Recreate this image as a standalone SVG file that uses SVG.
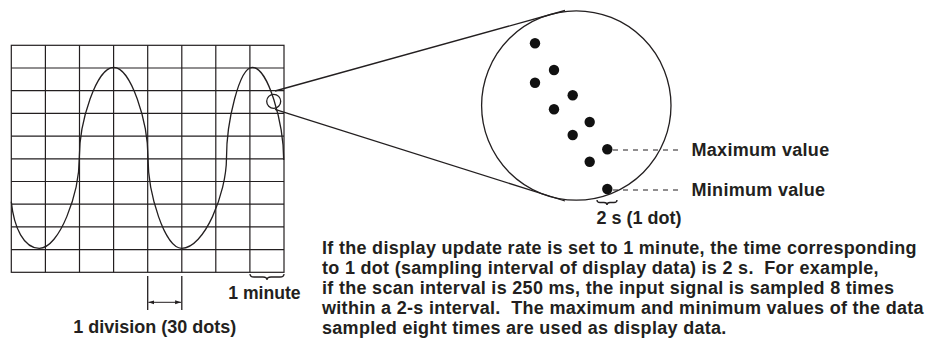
<svg xmlns="http://www.w3.org/2000/svg" width="933" height="347" viewBox="0 0 933 347">
<style>
.t{font-family:"Liberation Sans",Arial,Helvetica,sans-serif;font-weight:bold;font-size:18px;fill:#231f20}
.p{letter-spacing:0.3px}
.ln{fill:none;stroke:#231f20;stroke-width:1.3}
.grid{fill:none;stroke:#231f20;stroke-width:1.2}
.dash{fill:none;stroke:#231f20;stroke-width:1.2;stroke-dasharray:5 5}
.dot{fill:#111}
</style>
<defs>
<marker id="ah" viewBox="0 0 6 6" refX="6" refY="3" markerWidth="6" markerHeight="6" markerUnits="userSpaceOnUse" orient="auto-start-reverse">
<path d="M0,1 L6,3 L0,5 Z" fill="#231f20"/>
</marker>
</defs>

<g id="chart">
<rect class="grid" x="11.3" y="45.3" width="272.7" height="227"/>
<path class="grid" d="M45.4,45.3V272.3M79.5,45.3V272.3M113.6,45.3V272.3M147.7,45.3V272.3M181.8,45.3V272.3M215.8,45.3V272.3M249.9,45.3V272.3M11.3,68H284M11.3,90.7H284M11.3,113.4H284M11.3,136.1H284M11.3,158.8H284M11.3,181.5H284M11.3,204.2H284M11.3,226.9H284M11.3,249.6H284"/>
<path id="waveform" class="ln" d="M11.3,201.7 C14,228 24,248.3 39.3,248.3 C59.3,248.3 79.3,194 79.3,157.8 C79.3,121.6 96.5,67.3 113.7,67.3 C130.85,67.3 148,121.6 148,157.8 C148,194 164.85,248.3 181.7,248.3 C204.1,248.3 226.5,194 226.5,157.8 C226.5,121.6 239.4,67.3 252.3,67.3 C268,67.3 283.7,122.9 283.7,160"/>
<circle class="ln" cx="273.7" cy="101.3" r="7"/>
</g>

<g id="magnifier">
<circle class="ln" cx="576.3" cy="105.5" r="94.7"/>
<g id="dots">
<circle class="dot" cx="535" cy="43.3" r="5.2"/>
<circle class="dot" cx="554" cy="70" r="5.2"/>
<circle class="dot" cx="535" cy="82.7" r="5.2"/>
<circle class="dot" cx="572.7" cy="95.3" r="5.2"/>
<circle class="dot" cx="554" cy="109.3" r="5.2"/>
<circle class="dot" cx="589.7" cy="122" r="5.2"/>
<circle class="dot" cx="572.7" cy="135" r="5.2"/>
<circle class="dot" cx="607.3" cy="149.3" r="5.2"/>
<circle class="dot" cx="589.7" cy="161.7" r="5.2"/>
<circle class="dot" cx="607.3" cy="189" r="5.2"/>
</g>
</g>

<g id="connectors">
<line class="ln" x1="275" y1="91" x2="565" y2="10.5"/>
<line class="ln" x1="275" y1="109.3" x2="565" y2="201"/>
<line class="dash" x1="613" y1="150" x2="683" y2="150"/>
<line class="dash" x1="613" y1="190" x2="683" y2="190"/>
</g>

<g id="division-marker">
<path class="ln" d="M147.7,276V310M181.8,276V310"/>
<line x1="148.4" y1="302.3" x2="181.1" y2="302.3" stroke="#231f20" stroke-width="1" marker-start="url(#ah)" marker-end="url(#ah)"/>
</g>

<g id="braces">
<path class="ln" stroke-width="1.5" d="M250,274 Q250,277 254,277 L263,277 Q267,277 267,280 Q267,277 271,277 L280,277 Q284,277 284,274"/>
<path class="ln" stroke-width="1.5" d="M597,200 Q597,202.5 600,202.5 L604,202.5 Q607,202.5 607,205 Q607,202.5 610,202.5 L614,202.5 Q617,202.5 617,200"/>
</g>

<g id="labels">
<text class="t p" x="691.5" y="155.7">Maximum value</text>
<text class="t p" x="691.5" y="195.7">Minimum value</text>
<text class="t" x="596.5" y="223.5">2 s (1 dot)</text>
<text class="t" x="228.3" y="299.3" style="font-size:17.6px">1 minute</text>
<text class="t" x="73.3" y="333.3">1 division (30 dots)</text>
</g>

<g id="description">
<text class="t p" xml:space="preserve" x="322" y="253.7">If the display update rate is set to 1 minute, the time corresponding</text>
<text class="t p" xml:space="preserve" x="322" y="274">to 1 dot (sampling interval of display data) is 2 s.  For example,</text>
<text class="t p" xml:space="preserve" x="322" y="294">if the scan interval is 250 ms, the input signal is sampled 8 times</text>
<text class="t p" xml:space="preserve" x="322" y="314">within a 2-s interval.  The maximum and minimum values of the data</text>
<text class="t p" xml:space="preserve" x="322" y="334">sampled eight times are used as display data.</text>
</g>
</svg>
